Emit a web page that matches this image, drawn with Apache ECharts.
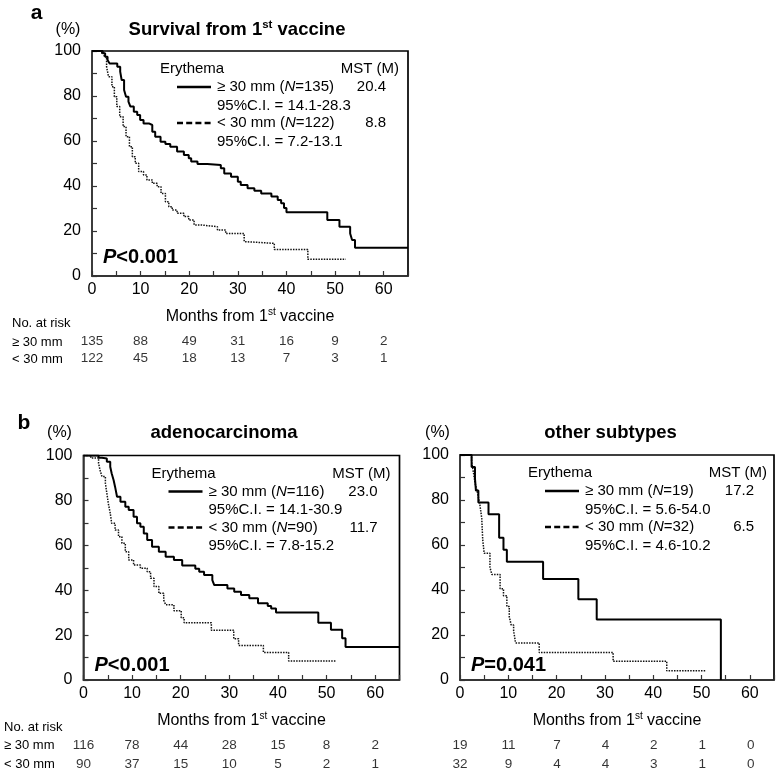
<!DOCTYPE html>
<html><head><meta charset="utf-8">
<script src="https://cdn.jsdelivr.net/npm/echarts@6/dist/echarts.min.js"></script>
<style>html,body{margin:0;padding:0;background:#fff}#c{width:777px;height:774px}</style>
</head><body><div id="c"></div>
<script>
// ---------------- DATA ----------------
const riskTimes = [0, 10, 20, 30, 40, 50, 60];

// Panel a: Survival from 1st vaccine
const aGeTime = [0,2.2,2.7,3.2,3.6,5.2,5.8,6.1,6.6,7.0,7.5,7.9,8.6,9.3,9.9,10.6,11.7,12.4,13.0,14.1,15.1,16.1,17.5,18.9,19.9,20.4,21.7,23.7,26.5,27.2,28.6,30.0,30.6,32.0,33.4,34.8,36.9,38.2,38.9,39.5,40.0,48.4,50.9,53.1,53.5,54.1,65];
const aGeSurv = [100,99,97.5,96,94.5,93,90.8,87.1,82.7,79.7,77.5,75.3,73,71.6,69.3,67.8,67.1,64.1,61.9,59.7,58.7,57.5,55.3,53.8,52.3,50.9,49.8,49.3,47.9,45.6,44.1,41.9,40.4,39.0,37.9,36.7,35.3,33.8,32.3,30.2,28.3,24.9,21.9,18.9,16.0,12.6,12.6];
const aLtTime = [0,2.0,2.5,3.0,3.4,4.1,4.6,5.1,5.7,6.4,7.0,7.7,8.3,8.9,9.6,10.6,11.3,12.4,13.4,14.2,15.1,15.8,16.5,17.5,18.9,19.9,21.0,22.4,25.8,27.5,31.3,31.7,37.5,44.4,52.2];
const aLtSurv = [100,99,97.5,93,88.6,84.1,79.7,75.3,70.8,66.4,61.9,57.5,53,50.1,46.4,44.9,42.7,41.2,39.7,36.7,33,30.8,29.3,27.9,26.4,24.9,22.7,21.9,20.4,18.9,15.3,14.5,11.8,7.5,7.5];
const aRiskGe = [135, 88, 49, 31, 16, 9, 2];
const aRiskLt = [122, 45, 18, 13, 7, 3, 1];
const aN = [135, 122];
const aMst = ['20.4', '8.8'];
const aCI = ['14.1-28.3', '7.2-13.1'];

// Panel b left: adenocarcinoma
const bLGeTime = [0,3.1,3.8,4.8,5.5,5.8,6.2,6.5,6.9,7.6,8.6,9.3,10.3,11.0,11.7,12.4,13.1,14.1,15.5,16.9,18.6,20.3,23.0,23.8,24.8,26.5,26.9,29.6,31.0,32.4,34.1,35.9,37.9,38.6,39.6,48.3,50.9,53.2,53.9,65];
const bLGeSurv = [100,99,98.7,97.2,95,92,89,86,81.6,79.4,77.2,75.7,72.7,69.8,68.3,65.3,62.4,59.4,57.1,54.9,53.5,51,49.5,48.2,46.8,44.5,42.3,40.8,39.3,37.9,36.4,34.2,33,31.9,30.1,25.5,22.4,18.6,14.7,14.7];
const bLLtTime = [0,1.5,3.1,3.4,3.8,4.5,4.8,5.1,5.5,5.8,6.5,7.2,7.9,8.6,9.3,10.3,11.7,13.1,13.8,14.5,15.5,16.5,16.9,18.6,20.1,20.7,26.3,30.9,31.9,37.0,42.2,52.0];
const bLLtSurv = [100,98.9,96.5,93.5,90.6,87.6,83.2,78.7,74.3,69.8,66.8,63.8,60.9,57.1,53.5,51.2,49.8,48.2,45.3,41.6,38.6,35.6,33.5,30.8,27.7,25.5,22.2,18.4,15.4,12.3,8.5,8.5];
const bLRiskGe = [116, 78, 44, 28, 15, 8, 2];
const bLRiskLt = [90, 37, 15, 10, 5, 2, 1];
const bLN = [116, 90];
const bLMst = ['23.0', '11.7'];
const bLCI = ['14.1-30.9', '7.8-15.2'];

// Panel b right: other subtypes
const bRGeTime = [0,2.4,3.1,3.3,3.8,5.9,8.1,9.0,9.7,17.2,24.5,28.3,54.0];
const bRGeSurv = [100,94.7,89.5,84.2,78.9,73.7,63.2,57.9,52.6,44.9,35.9,26.9,0];
const bRLtTime = [0,2.4,2.8,3.1,3.5,3.8,4.1,4.5,4.7,5.0,6.2,6.6,8.3,9.0,9.7,10.2,10.6,11.1,11.5,16.4,31.7,42.8,51.0];
const bRLtSurv = [100,96.9,92,87.6,84.4,81.3,78.1,71.9,62.5,56.3,50,46.9,40.6,37.5,32.7,28.1,24.4,21.9,16.5,12.2,8.3,4.1,4.1];
const bRRiskGe = [19, 11, 7, 4, 2, 1, 0];
const bRRiskLt = [32, 9, 4, 4, 3, 1, 0];
const bRN = [19, 32];
const bRMst = ['17.2', '6.5'];
const bRCI = ['5.6-54.0', '4.6-10.2'];

const titles = ['Survival from 1|st| vaccine', 'adenocarcinoma', 'other subtypes'];
const pValues = ['<0.001', '<0.001', '=0.041'];

// ---------------- LAYOUT ----------------
const FONT = 'Liberation Sans, Arial, Helvetica, sans-serif';
const panels = [
  {grid:{left:92, top:51, width:316, height:225}, risk:{top:333, height:34},
   ge:[aGeTime,aGeSurv], lt:[aLtTime,aLtSurv], rge:aRiskGe, rlt:aRiskLt, N:aN, mst:aMst, ci:aCI,
   title:titles[0], titleX:237, titleY:30, pct:[68,30], pY:257.5, letter:['a',36.5,13], rowX:12, rowY:[323,342,359]},
  {grid:{left:83.5, top:455.5, width:316, height:224.5}, risk:{top:736.5, height:37},
   ge:[bLGeTime,bLGeSurv], lt:[bLLtTime,bLLtSurv], rge:bLRiskGe, rlt:bLRiskLt, N:bLN, mst:bLMst, ci:bLCI,
   title:titles[1], titleX:224, titleY:433, pct:[59.5,433], pY:665, letter:['b',24,423], rowX:4, rowY:[727.5,745.5,764]},
  {grid:{left:460, top:455, width:315, height:225}, risk:{top:736.5, height:37},
   ge:[bRGeTime,bRGeSurv], lt:[bRLtTime,bRLtSurv], rge:bRRiskGe, rlt:bRRiskLt, N:bRN, mst:bRMst, ci:bRCI,
   title:titles[2], titleX:610.5, titleY:433, pct:[437.5,433], pY:665, letter:null, rowX:null, rowY:[727.5,745.5,764]}
];

const zip = (t, s) => t.map((x, i) => [x, s[i]]);
const grids = [], xAxes = [], yAxes = [], series = [], graphics = [];

function txt(x, y, text, opt) {
  const st = Object.assign({x, y, text, fill:'#000', fontFamily:FONT, fontSize:15,
    align:'left', verticalAlign:'middle', textAlign:'left', textVerticalAlign:'middle'}, opt || {});
  if (opt && opt.align) st.textAlign = opt.align;
  return {type:'text', z:100, style: st};
}

panels.forEach((p, i) => {
  grids.push(Object.assign({show:true, borderColor:'#000', borderWidth:1.7, backgroundColor:'transparent'}, p.grid));
  xAxes.push({gridIndex:i, type:'value', min:0, max:65, interval:5,
    axisLine:{lineStyle:{color:'#333', width:1.5}},
    axisTick:{inside:true, length:5, lineStyle:{color:'#333', width:1.2}},
    splitLine:{show:false},
    axisLabel:{formatter: v => (v % 10 === 0 ? String(v) : ''), fontSize:16, color:'#000', margin:6, fontFamily:FONT},
    name:'{t|Months from 1}{s|st}{t| vaccine}', nameLocation:'middle', nameGap:31,
    nameTextStyle:{rich:{t:{fontSize:16, fontFamily:FONT, color:'#000', lineHeight:20},
                          s:{fontSize:10, fontFamily:FONT, color:'#000', lineHeight:20, verticalAlign:'top', padding:[0,0,7,0]}}}});
  yAxes.push({gridIndex:i, type:'value', min:0, max:100, interval:10,
    axisLine:{show:true, lineStyle:{color:'#444', width:1.5}},
    axisTick:{show:true, inside:true, length:5, lineStyle:{color:'#333', width:1.2}},
    splitLine:{show:false},
    axisLabel:{formatter: v => (v % 20 === 0 ? String(v) : ''), fontSize:16, color:'#000', margin:11, fontFamily:FONT}});
  series.push({type:'line', xAxisIndex:i, yAxisIndex:i, step:'end', symbol:'none', z:5,
    data: zip(p.ge[0], p.ge[1]), lineStyle:{color:'#000', width:2}});
  series.push({type:'line', xAxisIndex:i, yAxisIndex:i, step:'end', symbol:'none', z:4,
    data: zip(p.lt[0], p.lt[1]), lineStyle:{color:'#111', width:1.5, type:[1.5,1.2]}});
});

panels.forEach((p, i) => {
  const gi = 3 + i;
  grids.push({left:p.grid.left, width:p.grid.width, top:p.risk.top, height:p.risk.height, show:false});
  xAxes.push({gridIndex:gi, type:'value', min:0, max:65, show:false});
  yAxes.push({gridIndex:gi, type:'category', data:['ge','lt'], inverse:true, show:false});
  const rows = riskTimes.map((t, j) => [t, 'ge', p.rge[j]]).concat(riskTimes.map((t, j) => [t, 'lt', p.rlt[j]]));
  series.push({type:'scatter', xAxisIndex:gi, yAxisIndex:gi, symbolSize:1, itemStyle:{color:'rgba(0,0,0,0)'},
    data: rows, label:{show:true, position:'inside', formatter: q => String(q.value[2]), fontSize:13.5, color:'#000', fontFamily:FONT}});
});

// ---------------- TEXT / LEGENDS ----------------
panels.forEach((p, i) => {
  const L = p.grid.left, T = p.grid.top;
  const parts = p.title.split('|');
  const ttext = parts.length === 3 ? `{t|${parts[0]}}{s|${parts[1]}}{t|${parts[2]}}` : `{t|${p.title}}`;
  graphics.push({type:'text', z:100, style:{x:p.titleX, y:p.titleY, text:ttext, align:'center', verticalAlign:'middle', textAlign:'center', textVerticalAlign:'middle',
    rich:{t:{fontSize:18.5, fontWeight:'bold', fontFamily:FONT, fill:'#000', lineHeight:22},
          s:{fontSize:11.5, fontWeight:'bold', fontFamily:FONT, fill:'#000', lineHeight:22, verticalAlign:'top', padding:[0,0,8,0]}}}});
  graphics.push(txt(p.pct[0], p.pct[1], '(%)', {fontSize:16, align:'center'}));
  if (p.letter) graphics.push(txt(p.letter[1], p.letter[2], p.letter[0], {fontSize:21, fontWeight:'bold', align:'center'}));
  graphics.push({type:'text', z:100, style:{x:L + 11, y:p.pY, text:`{p|P}{q|${pValues[i]}}`, align:'left', verticalAlign:'middle', textAlign:'left', textVerticalAlign:'middle',
    rich:{p:{fontSize:20, fontWeight:'bold', fontStyle:'italic', fontFamily:FONT, fill:'#000'},
          q:{fontSize:20, fontWeight:'bold', fontFamily:FONT, fill:'#000'}}}});
  graphics.push(txt(L + 68, T + 18, 'Erythema'));
  graphics.push(txt(L + 307, T + 18, 'MST (M)', {align:'right'}));
  const labels = ['≥ 30 mm', '< 30 mm'];
  [0, 1].forEach(k => {
    const yy = T + 36 + k * 36;
    graphics.push({type:'line', z:100, shape:{x1:L + 85, y1:yy, x2:L + 119, y2:yy},
      style:{stroke:'#000', lineWidth:2.6, lineDash: k === 0 ? null : [6, 3.2]}});
    graphics.push({type:'text', z:100, style:{x:L + 125, y:yy, text:`{n|${labels[k]} (}{i|N}{n|=${p.N[k]})}`,
      align:'left', verticalAlign:'middle', textAlign:'left', textVerticalAlign:'middle',
      rich:{n:{fontSize:15, fontFamily:FONT, fill:'#000'}, i:{fontSize:15, fontStyle:'italic', fontFamily:FONT, fill:'#000'}}}});
    graphics.push(txt(L + 294, yy, p.mst[k], {align:'right'}));
    graphics.push(txt(L + 125, yy + 18.5, '95%C.I. = ' + p.ci[k]));
  });
  if (p.rowX !== null) {
    graphics.push(txt(p.rowX, p.rowY[0], 'No. at risk', {fontSize:13}));
    graphics.push(txt(p.rowX, p.rowY[1], '≥ 30 mm', {fontSize:13}));
    graphics.push(txt(p.rowX, p.rowY[2], '< 30 mm', {fontSize:13}));
  }
});

const chart = echarts.init(document.getElementById('c'), null, {renderer:'canvas'});
chart.setOption({
  animation:false,
  backgroundColor:'#fff',
  textStyle:{fontFamily:FONT},
  grid:grids, xAxis:xAxes, yAxis:yAxes, series:series, graphic:graphics
});
</script>
</body></html>
